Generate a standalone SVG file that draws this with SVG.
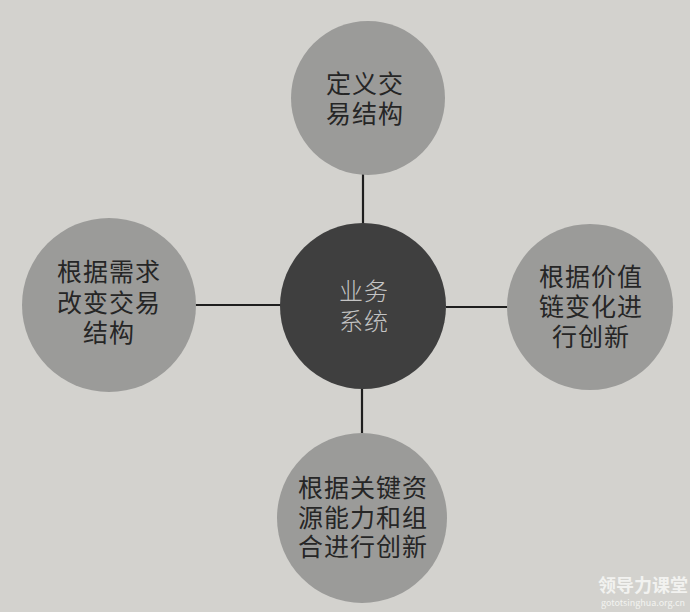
<svg xmlns="http://www.w3.org/2000/svg" width="690" height="612" viewBox="0 0 690 612">
<style>
.bg{fill:#d3d2ce}
.outer{fill:#9b9b99}
.center{fill:#3f3f3f}
.t{font-family:"Liberation Sans","Noto Sans CJK SC",sans-serif;font-size:25px;fill:#262626;text-anchor:middle;letter-spacing:1px}
.tc{font-family:"Liberation Sans","Noto Sans CJK SC",sans-serif;font-size:24px;fill:#c4c4c4;text-anchor:middle;font-weight:300;letter-spacing:1px}
.conn{stroke:#1e1e1e;stroke-width:2.2;fill:none}
.wm{font-family:"Noto Sans CJK SC",sans-serif;fill:#f2f2f0;text-anchor:middle}
</style>
<rect class="bg" x="0" y="0" width="690" height="612"/>
<g id="connectors">
<line class="conn" x1="363" y1="172" x2="363" y2="226"/>
<line class="conn" x1="195" y1="305" x2="281" y2="305"/>
<line class="conn" x1="446" y1="307" x2="508" y2="307"/>
<line class="conn" x1="362" y1="386" x2="362" y2="434"/>
</g>
<g id="node-top">
<circle class="outer" cx="368" cy="98" r="77"/>
<text class="t"><tspan x="365" y="93">定义交</tspan><tspan x="365" y="123">易结构</tspan></text>
</g>
<g id="node-center">
<circle class="center" cx="363" cy="306" r="83"/>
<text class="tc"><tspan x="364" y="300">业务</tspan><tspan x="364" y="330">系统</tspan></text>
</g>
<g id="node-left">
<circle class="outer" cx="109" cy="305" r="87"/>
<text class="t"><tspan x="109" y="281">根据需求</tspan><tspan x="109" y="312">改变交易</tspan><tspan x="109" y="342">结构</tspan></text>
</g>
<g id="node-right">
<circle class="outer" cx="590" cy="307" r="83"/>
<text class="t"><tspan x="591" y="286">根据价值</tspan><tspan x="591" y="316">链变化进</tspan><tspan x="591" y="346">行创新</tspan></text>
</g>
<g id="node-bottom">
<circle class="outer" cx="362" cy="518" r="85"/>
<text class="t"><tspan x="363" y="497">根据关键资</tspan><tspan x="363" y="527">源能力和组</tspan><tspan x="363" y="556">合进行创新</tspan></text>
</g>
<g id="watermark">
<text class="wm" x="643" y="592" font-size="18" font-weight="700">领导力课堂</text>
<text class="wm" x="643" y="606" font-size="9">gototsinghua.org.cn</text>
</g>
</svg>
